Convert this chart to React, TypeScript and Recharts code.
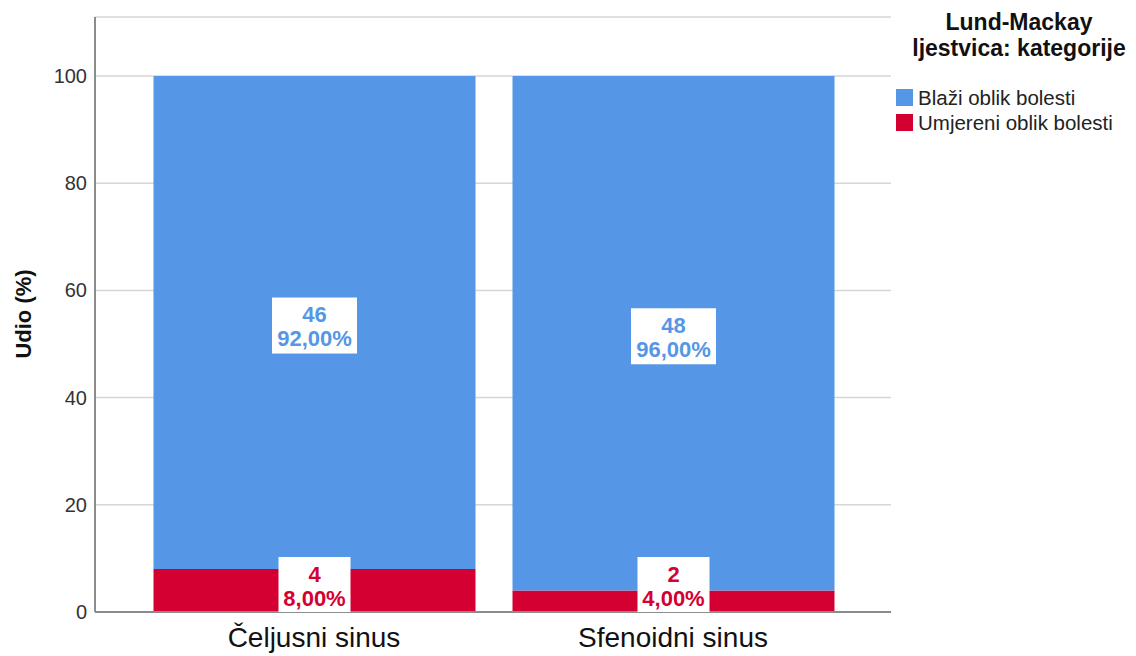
import { BarChart, Bar, XAxis, YAxis, CartesianGrid, LabelList } from 'recharts';

const CATEGORIES = ['Čeljusni sinus', 'Sfenoidni sinus'];
const SERIES = ['Blaži oblik bolesti', 'Umjereni oblik bolesti'];
const BLAZI_PCT = [92, 96];
const UMJERENI_PCT = [8, 4];
const BLAZI_N = [46, 48];
const UMJERENI_N = [4, 2];
const Y_TICKS = [0, 20, 40, 60, 80, 100];

const COLORS = {
  blazi: '#5597e6',
  umjereni: '#d50032',
  grid: '#d6d6d6',
  axis: '#8c8c8c',
};

const FONT = 'Arial, "Liberation Sans", sans-serif';

const data = CATEGORIES.map((name, i) => ({
  name,
  umjereni: UMJERENI_PCT[i],
  blazi: BLAZI_PCT[i],
}));

const fmt = (v: number) => v.toFixed(2).replace('.', ',') + '%';

function LabelBox({ cx, top, h, n, pct, color }: any) {
  const text = fmt(pct);
  const w = 13 * text.length + 7;
  return (
    <g>
      <rect x={cx - w / 2} y={top} width={w} height={h} fill="#fff" />
      <text x={cx} y={top + 17} textAnchor="middle" dominantBaseline="central" fontSize={22} fontWeight="bold" fill={color}>
        {n}
      </text>
      <text x={cx} y={top + 41} textAnchor="middle" dominantBaseline="central" fontSize={22} fontWeight="bold" fill={color}>
        {text}
      </text>
    </g>
  );
}

// both segment labels drawn from the top bar so the blue bar can't cover the red box
function StackLabels(props: any) {
  const { x, y, width, height, index } = props;
  const cx = x + width / 2;
  const ppu = height / BLAZI_PCT[index];
  const redH = UMJERENI_PCT[index] * ppu;
  const base = y + height + redH;
  const blueTop = y + height / 2 + 3 - 28;
  const redTop = Math.min(y + height + redH / 2 - 28, base - 55);
  return (
    <g>
      <LabelBox cx={cx} top={blueTop} h={56} n={BLAZI_N[index]} pct={BLAZI_PCT[index]} color={COLORS.blazi} />
      <LabelBox cx={cx} top={redTop} h={55} n={UMJERENI_N[index]} pct={UMJERENI_PCT[index]} color={COLORS.umjereni} />
    </g>
  );
}

function YLabel() {
  return (
    <text
      x={23}
      y={314}
      transform="rotate(-90, 23, 314)"
      textAnchor="middle"
      dominantBaseline="central"
      fontSize={22}
      fontWeight="bold"
      fill="#111"
    >
      Udio (%)
    </text>
  );
}

export default function App() {
  const legendColors = [COLORS.blazi, COLORS.umjereni];
  return (
    <div style={{ position: 'absolute', left: 0, top: 0, width: 1136, height: 656, fontFamily: FONT, background: '#fff' }}>
      <BarChart width={1136} height={656} data={data} margin={{ top: 17, right: 245, bottom: 0, left: 0 }}>
        <CartesianGrid vertical={false} stroke={COLORS.grid} strokeWidth={1.5} />
        <XAxis
          dataKey="name"
          height={44}
          padding={{ left: 39.5, right: 38.5 }}
          axisLine={{ stroke: COLORS.axis, strokeWidth: 2 }}
          tickLine={false}
          tick={{ fontSize: 28, fill: '#111', dy: 7 }}
        />
        <YAxis
          width={95}
          domain={[0, 111]}
          ticks={Y_TICKS}
          axisLine={{ stroke: COLORS.axis, strokeWidth: 2 }}
          tickLine={false}
          tick={{ fontSize: 20, fill: '#333' }}
          label={<YLabel />}
        />
        <Bar dataKey="umjereni" stackId="s" fill={COLORS.umjereni} barSize={322} isAnimationActive={false} />
        <Bar dataKey="blazi" stackId="s" fill={COLORS.blazi} barSize={322} isAnimationActive={false}>
          <LabelList dataKey="blazi" content={StackLabels} />
        </Bar>
      </BarChart>

      <div style={{ position: 'absolute', left: 880, top: 9, width: 276 }}>
        <div style={{ width: 278, textAlign: 'center', fontWeight: 'bold', fontSize: 23, lineHeight: '26px', color: '#111' }}>
          Lund-Mackay
          <br />
          ljestvica: kategorije
        </div>
        <div style={{ marginTop: 24, marginLeft: 16 }}>
          {SERIES.map((s, i) => (
            <div key={s} style={{ display: 'flex', alignItems: 'center', height: 25, fontSize: 20.5, color: '#222' }}>
              <span style={{ width: 17, height: 17, background: legendColors[i], marginRight: 5, display: 'inline-block' }} />
              {s}
            </div>
          ))}
        </div>
      </div>
    </div>
  );
}
